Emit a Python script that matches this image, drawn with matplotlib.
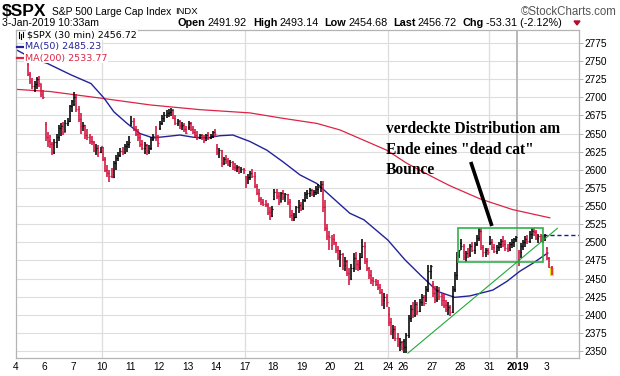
import matplotlib
matplotlib.use("Agg")
import matplotlib.pyplot as plt
from matplotlib.patches import Rectangle
from matplotlib.lines import Line2D
import numpy as np

# ---------------- data ----------------
day_labels = ["4", "6", "7", "10", "11", "12", "13", "14", "17", "18", "19",
              "20", "21", "24", "26", "27", "28", "31", "2019", "3"]
bars_per_day = [13, 13, 13, 13, 13, 13, 13, 13, 13, 13, 13, 13, 13, 7, 13, 13, 13, 13, 13, 3]
week_start_labels = ["10", "17", "24", "31"]
year_label = "2019"
first_visible_bar = 5          # chart begins with the 6th bar of Dec 4
day_open = [2746, 2663.5, 2691.3, 2630.9, 2664.4, 2658.2, 2658.7, 2629.7, 2590.8, 2559.9,
            2547.1, 2496.8, 2465.4, 2400.6, 2363.1, 2442.5, 2498.8, 2498.9, 2477.0, 2491.9]

# 30-minute bars per day: (high, low, close)
dec04 = [(2748, 2730, 2732), (2735, 2718, 2722), (2726, 2712, 2715), (2722, 2708, 2718),
         (2728, 2712, 2725), (2730, 2714, 2720), (2718, 2700, 2705), (2710, 2697, 2700)]
dec06 = [(2666, 2640, 2645), (2652, 2632, 2640), (2648, 2630, 2635), (2638, 2621, 2625),
         (2643, 2622, 2638), (2650, 2630, 2645), (2662, 2640, 2658), (2664, 2646, 2660),
         (2666, 2648, 2652), (2669, 2652, 2665), (2672, 2660, 2668), (2690, 2666, 2688),
         (2696, 2680, 2695)]
dec07 = [(2708, 2688, 2700), (2704, 2680, 2684), (2688, 2666, 2670), (2678, 2650, 2660),
         (2666, 2653, 2662), (2662, 2643, 2648), (2656, 2641, 2645), (2650, 2636, 2640),
         (2646, 2634, 2638), (2640, 2624, 2628), (2635, 2620, 2630), (2634, 2618, 2625),
         (2632, 2623, 2633)]
dec10 = [(2631, 2612, 2615), (2618, 2597, 2600), (2607, 2590, 2595), (2600, 2583, 2592),
         (2602, 2588, 2590), (2612, 2589, 2610), (2620, 2600, 2616), (2624, 2612, 2620),
         (2630, 2618, 2626), (2632, 2620, 2624), (2636, 2622, 2633), (2640, 2625, 2635),
         (2647, 2630, 2638)]
dec11 = [(2674, 2660, 2668), (2672, 2653, 2656), (2660, 2646, 2650), (2656, 2640, 2645),
         (2650, 2632, 2636), (2641, 2627, 2630), (2638, 2622, 2634), (2636, 2621, 2626),
         (2634, 2622, 2630), (2645, 2628, 2643), (2650, 2640, 2647), (2660, 2640, 2645),
         (2648, 2632, 2637)]
dec12 = [(2668, 2655, 2665), (2675, 2662, 2672), (2680, 2666, 2676), (2682, 2672, 2678),
         (2684, 2673, 2680), (2685, 2674, 2682), (2684, 2670, 2672), (2676, 2662, 2665),
         (2670, 2660, 2668), (2669, 2656, 2660), (2666, 2655, 2662), (2664, 2652, 2656),
         (2660, 2650, 2651)]
dec13 = [(2668, 2655, 2664), (2666, 2653, 2656), (2660, 2650, 2652), (2656, 2645, 2648),
         (2653, 2641, 2644), (2650, 2642, 2648), (2650, 2641, 2645), (2648, 2637, 2641),
         (2650, 2640, 2648), (2652, 2641, 2644), (2650, 2642, 2646), (2654, 2644, 2652),
         (2656, 2645, 2650)]
dec14 = [(2635, 2620, 2624), (2630, 2616, 2627), (2628, 2604, 2610), (2618, 2606, 2615),
         (2620, 2608, 2612), (2616, 2605, 2608), (2614, 2604, 2611), (2612, 2600, 2604),
         (2610, 2598, 2602), (2606, 2597, 2604), (2605, 2594, 2598), (2604, 2595, 2601),
         (2603, 2594, 2600)]
dec17 = [(2591, 2575, 2588), (2594, 2580, 2590), (2598, 2586, 2595), (2601, 2588, 2592),
         (2597, 2575, 2578), (2580, 2565, 2568), (2574, 2556, 2560), (2563, 2552, 2555),
         (2560, 2550, 2553), (2558, 2548, 2551), (2554, 2538, 2542), (2549, 2531, 2536),
         (2550, 2535, 2546)]
dec18 = [(2574, 2558, 2570), (2573, 2560, 2564), (2570, 2551, 2556), (2570, 2556, 2568),
         (2572, 2558, 2562), (2568, 2555, 2566), (2566, 2552, 2556), (2560, 2533, 2538),
         (2545, 2529, 2533), (2540, 2529, 2535), (2550, 2534, 2548), (2558, 2540, 2552),
         (2555, 2543, 2546)]
dec19 = [(2560, 2545, 2558), (2570, 2556, 2566), (2572, 2560, 2568), (2575, 2562, 2572),
         (2574, 2564, 2566), (2572, 2563, 2570), (2578, 2565, 2574), (2581, 2566, 2576),
         (2585, 2570, 2580), (2584, 2542, 2548), (2558, 2515, 2520), (2525, 2503, 2508),
         (2515, 2489, 2507)]
dec20 = [(2510, 2490, 2505), (2512, 2496, 2500), (2501, 2485, 2490), (2495, 2476, 2480),
         (2489, 2466, 2484), (2485, 2462, 2468), (2480, 2460, 2474), (2476, 2453, 2458),
         (2465, 2441, 2450), (2470, 2448, 2465), (2485, 2459, 2478), (2487, 2462, 2470),
         (2475, 2460, 2467)]
dec21 = [(2485, 2462, 2480), (2504, 2478, 2495), (2500, 2470, 2474), (2478, 2460, 2464),
         (2466, 2450, 2455), (2462, 2443, 2448), (2452, 2440, 2446), (2450, 2439, 2442),
         (2448, 2434, 2438), (2442, 2428, 2432), (2436, 2412, 2420), (2430, 2408, 2425),
         (2428, 2410, 2417)]
dec24 = [(2410, 2385, 2390), (2396, 2372, 2378), (2386, 2366, 2380), (2384, 2364, 2368),
         (2375, 2355, 2360), (2368, 2350, 2362), (2364, 2351, 2351)]
dec26 = [(2366, 2347, 2355), (2375, 2347, 2372), (2400, 2368, 2395), (2413, 2390, 2408),
         (2418, 2396, 2400), (2420, 2397, 2415), (2418, 2400, 2405), (2422, 2404, 2418),
         (2428, 2412, 2424), (2427, 2412, 2416), (2440, 2418, 2436), (2469, 2432, 2460),
         (2468, 2450, 2467.7)]
dec27 = [(2446, 2425, 2430), (2440, 2416, 2422), (2439, 2418, 2434), (2438, 2420, 2426),
         (2430, 2412, 2420), (2428, 2409, 2414), (2420, 2404, 2408), (2418, 2400, 2410),
         (2414, 2398, 2404), (2439, 2402, 2436), (2459, 2432, 2455), (2487, 2448, 2482),
         (2489, 2478, 2489)]
dec28 = [(2505, 2490, 2495), (2498, 2476, 2480), (2488, 2473, 2485), (2492, 2478, 2482),
         (2498, 2480, 2495), (2501, 2486, 2490), (2500, 2484, 2497), (2510, 2495, 2506),
         (2520, 2502, 2515), (2519, 2490, 2494), (2496, 2480, 2486), (2492, 2480, 2490),
         (2492, 2482, 2486)]
dec31 = [(2508, 2496, 2500), (2505, 2490, 2494), (2498, 2485, 2488), (2496, 2484, 2494),
         (2500, 2488, 2498), (2504, 2492, 2502), (2508, 2494, 2498), (2503, 2488, 2492),
         (2498, 2487, 2490), (2500, 2488, 2497), (2504, 2492, 2500), (2506, 2494, 2504),
         (2509, 2500, 2507)]
jan02 = [(2490, 2467, 2486), (2499, 2478, 2495), (2503, 2490, 2500), (2508, 2494, 2505),
         (2510, 2498, 2502), (2515, 2499, 2512), (2519, 2505, 2516), (2519, 2508, 2514),
         (2517, 2503, 2506), (2512, 2499, 2508), (2512, 2500, 2503), (2510, 2499, 2505),
         (2512, 2502, 2510)]
jan03 = [(2493, 2476, 2478), (2480, 2464, 2466), (2467, 2455, 2456.72)]

all_days = [dec04, dec06, dec07, dec10, dec11, dec12, dec13, dec14, dec17, dec18, dec19,
            dec20, dec21, dec24, dec26, dec27, dec28, dec31, jan02, jan03]

# moving averages, read at bar positions
ma50_bar = [0, 8, 13.6, 24.5, 33.6, 39.5, 44.0, 50.0, 55.9, 61.8, 68.1, 74.0, 80.0, 86.3, 92.2,
            98.1, 105.9, 113.6, 120.9, 128.6, 136.3, 143.6, 151.3, 157.7, 168.6, 176.3,
            184.0, 191.3, 199.0, 205.9, 216.3, 222.7, 228.6, 234.5, 241.3]
ma50_val = [2765, 2752, 2747, 2731, 2719, 2699, 2680, 2664, 2650, 2644, 2646, 2648, 2645, 2644,
            2647, 2648, 2639, 2627, 2611, 2593, 2581, 2561, 2540, 2531, 2503, 2476, 2453,
            2432, 2424, 2426, 2434, 2446, 2460, 2471, 2485.23]
ma200_bar = [-0.5, 15.0, 37.7, 60.5, 83.1, 105.9, 120.9, 136.3, 146.8, 159.0, 168.1, 177.2,
             189.0, 196.8, 210.4, 225.4, 242.2]
ma200_val = [2711, 2708, 2699, 2689.5, 2683, 2678.5, 2671, 2664, 2655, 2639, 2627, 2609,
             2590, 2578, 2560, 2545, 2533.77]

prev_close = 2510.03
box_bars = [200.4, 239.0]
box_prices = [2473, 2520]
trend_bars = [177.7, 245.7]
trend_prices = [2347, 2519.3]
arrow_bars = [206.3, 215.9]
arrow_prices = [2610.8, 2522.5]

header_values = ["2491.92", "2493.14", "2454.68", "2456.72", "-53.31 (-2.12%)"]
header_names = ["Open", "High", "Low", "Last", "Chg"]

# ---------------- figure ----------------
W, H, DPI = 620, 376, 100
fig = plt.figure(figsize=(W / DPI, H / DPI), dpi=DPI)
fig.patch.set_facecolor("white")

def fx(x):
    return x / W

def fy(y):
    return 1 - y / H

L, R, T, B = 16, 579, 30, 358
ax = fig.add_axes([fx(L), fy(B), (R - L) / W, (B - T) / H])
ax.set_xlim(-0.5, 255.5)
ax.set_ylim(2340.3, 2792.9)

RED = "#d4103c"
NAVY = "#22229a"
CRIMSON = "#dc2445"
GREEN = "#2db34a"
GRID = "#dddddd"

# bars
day_start = np.concatenate([[0], np.cumsum(bars_per_day)[:-1]])
xs, hi, lo, cl, op = [], [], [], [], []
for d, bars in enumerate(all_days):
    start = day_start[d] + (first_visible_bar if d == 0 else 0)
    for k, (h, l, c) in enumerate(bars):
        xs.append(start + k)
        hi.append(h)
        lo.append(l)
        op.append(day_open[d] if k == 0 else cl[-1])
        cl.append(c)
xs = np.array(xs, float)
hi, lo, cl, op = map(np.array, (hi, lo, cl, op))
prev = np.concatenate([[op[0]], cl[:-1]])
cols = np.where(cl < prev, RED, "black")

# yellow marker of the last bar
ax.add_patch(Rectangle((xs[-1] - 0.8, lo[-1] - 0.5), 1.6, 10.5, facecolor="#ffff70",
                       edgecolor="#e6e600", lw=0.8, zorder=2))

ax.vlines(xs, lo, hi, colors=cols, lw=1.15, zorder=3)
ax.hlines(op, xs - 0.45, xs, colors=cols, lw=0.9, zorder=3)
ax.hlines(cl, xs, xs + 0.45, colors=cols, lw=0.9, zorder=3)

# moving averages
ax.plot(ma200_bar, ma200_val, color=CRIMSON, lw=0.9, zorder=2)
ax.plot(ma50_bar, ma50_val, color=NAVY, lw=1.0, zorder=2)

# previous close dashed line
ax.hlines(prev_close, box_bars[1], 255.5, colors="#1a1aa8", linestyles=(0, (3, 2)), lw=1.0, zorder=2)

# annotations
ax.add_patch(Rectangle((box_bars[0], box_prices[0]), box_bars[1] - box_bars[0],
                       box_prices[1] - box_prices[0], fill=False, edgecolor=GREEN, lw=1.2, zorder=4))
ax.plot(trend_bars, trend_prices, color="#22a83a", lw=0.8, zorder=4)
ax.plot(arrow_bars, arrow_prices, color="black", lw=2.6, zorder=5, solid_capstyle="butt")

# grid
for v in range(2350, 2800, 25):
    ax.axhline(v, color=GRID, lw=0.8, zorder=0)
tick_pos = day_start - 0.5
for lab, p in zip(day_labels, tick_pos):
    if lab in week_start_labels:
        ax.axvline(p, color=GRID, lw=0.9, zorder=0)
    if lab == year_label:
        ax.axvline(p, color="#b8b8b8", lw=1.4, zorder=0)

# axes styling
for s in ax.spines.values():
    s.set_color("#b4b4b4")
    s.set_linewidth(0.9)
ax.yaxis.tick_right()
ax.set_yticks(range(2350, 2800, 25))
ax.tick_params(axis="y", length=3, width=0.7, color="#b4b4b4", pad=1, labelsize=7.3,
               labelcolor="black")
for t in ax.get_yticklabels():
    t.set_fontfamily("Liberation Sans")
ax.set_xticks(tick_pos)
ax.set_xticklabels(day_labels)
ax.tick_params(axis="x", length=0, pad=3, labelsize=7.3)
for t in ax.get_xticklabels():
    t.set_fontfamily("Liberation Sans")
    if t.get_text() == year_label:
        t.set_fontweight("bold")

# legend inside plot
fs_leg = 6.8
box_kw = dict(facecolor="white", edgecolor="none", pad=0.6)
fig.text(fx(27), fy(35), "$SPX (30 min) 2456.72", fontsize=fs_leg, family="DejaVu Sans",
         va="center", ha="left", color="black", bbox=box_kw)
fig.text(fx(25), fy(47), "MA(50) 2485.23", fontsize=fs_leg, family="DejaVu Sans",
         va="center", ha="left", color=NAVY, bbox=box_kw)
fig.text(fx(25), fy(58), "MA(200) 2533.77", fontsize=fs_leg, family="DejaVu Sans",
         va="center", ha="left", color=CRIMSON, bbox=box_kw)
fig.add_artist(Line2D([fx(17), fx(24)], [fy(47), fy(47)], color=NAVY, lw=1.6))
fig.add_artist(Line2D([fx(17), fx(24)], [fy(58), fy(58)], color=CRIMSON, lw=1.6))
for (x0, y0, y1) in [(18.5, 32, 38), (20.5, 33.5, 38.5), (22.5, 31.5, 37)]:
    fig.add_artist(Line2D([fx(x0), fx(x0)], [fy(y0), fy(y1)], color="black", lw=0.8))

# annotation text
fig.text(fx(386), fy(121), 'verdeckte Distribution am\nEnde eines "dead cat"\nBounce',
         family="Liberation Serif", fontweight="bold", fontsize=11.2, va="top", ha="left",
         linespacing=1.38, color="black")

# header
fig.text(fx(2), fy(12), "$SPX", family="Liberation Sans", fontweight="bold", fontsize=12.5,
         va="center", ha="left")
fig.text(fx(52), fy(12), "S&P 500 Large Cap Index", family="Liberation Sans", fontsize=7.4,
         va="center", ha="left")
fig.text(fx(175), fy(12), "INDX", family="Liberation Sans", fontsize=6.8, va="center", ha="left")
fig.text(fx(617), fy(12), "\u00a9StockCharts.com", family="Liberation Sans", fontsize=8.3,
         va="center", ha="right", color="#555555")
fig.text(fx(2), fy(23), "3-Jan-2019 10:33am", family="Liberation Sans", fontsize=7.6,
         va="center", ha="left")
prev_t = None
x_start = 178
for name, val in zip(header_names, header_values):
    if prev_t is None:
        t1 = fig.text(fx(x_start), fy(23), name, family="Liberation Sans", fontweight="bold",
                      fontsize=7.8, va="center", ha="left")
    else:
        t1 = fig.add_artist(matplotlib.text.Annotation(
            name, xy=(1, 0), xycoords=prev_t, xytext=(4.2, 0), textcoords="offset points",
            family="Liberation Sans", fontweight="bold", fontsize=7.8, va="bottom", ha="left"))
    t2 = fig.add_artist(matplotlib.text.Annotation(
        val, xy=(1, 0), xycoords=t1, xytext=(1.5, 0), textcoords="offset points",
        family="Liberation Sans", fontsize=7.8, va="bottom", ha="left"))
    prev_t = t2
fig.add_artist(matplotlib.patches.Polygon([[fx(574), fy(21)], [fx(580), fy(21)], [fx(577), fy(25)]],
                                          closed=True, color="#b0102a"))

fig.savefig("out.png", dpi=DPI, facecolor="white")
